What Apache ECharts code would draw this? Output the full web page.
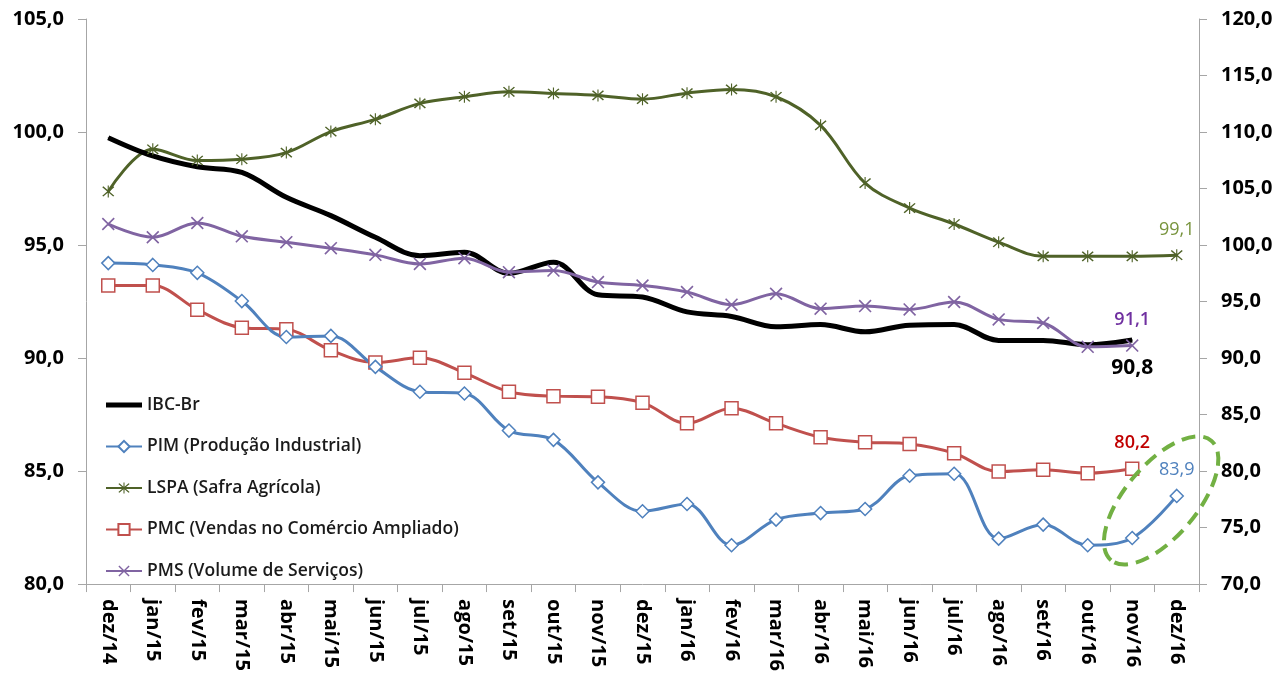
<!DOCTYPE html>
<html>
<head>
<meta charset="utf-8">
<script src="https://cdn.jsdelivr.net/npm/echarts@6/dist/echarts.min.js"></script>
<style>
  html, body { margin: 0; padding: 0; background: #fff; }
  #chart { width: 1278px; height: 674px; }
</style>
</head>
<body>
<div id="chart"></div>
<script>
// meses (eixo X)
const categories = [
  'dez/14', 'jan/15', 'fev/15', 'mar/15', 'abr/15', 'mai/15', 'jun/15', 'jul/15',
  'ago/15', 'set/15', 'out/15', 'nov/15', 'dez/15', 'jan/16', 'fev/16', 'mar/16',
  'abr/16', 'mai/16', 'jun/16', 'jul/16', 'ago/16', 'set/16', 'out/16', 'nov/16', 'dez/16'
];

// eixo esquerdo
const ibcBr = [99.75, 98.94, 98.46, 98.21, 97.11, 96.30, 95.34, 94.53, 94.68, 93.75, 94.24, 92.80,
  92.70, 92.04, 91.84, 91.38, 91.48, 91.16, 91.45, 91.48, 90.78, 90.78, 90.59, 90.8];
const pim = [94.20, 94.12, 93.77, 92.52, 90.93, 90.98, 89.61, 88.51, 88.43, 86.79, 86.38, 84.50,
  83.22, 83.54, 81.72, 82.85, 83.14, 83.32, 84.79, 84.88, 82.01, 82.63, 81.72, 82.04, 83.9];

// eixo direito
const lspa = [104.74, 108.47, 107.48, 107.59, 108.18, 110.04, 111.12, 112.53, 113.12, 113.56, 113.41, 113.24,
  112.91, 113.44, 113.77, 113.12, 110.59, 105.48, 103.27, 101.86, 100.25, 99.0, 99.0, 99.0, 99.1];
const pmc = [96.42, 96.42, 94.28, 92.69, 92.54, 90.69, 89.60, 90.02, 88.69, 87.02, 86.63, 86.58,
  86.05, 84.22, 85.55, 84.22, 82.99, 82.55, 82.40, 81.58, 79.96, 80.11, 79.81, 80.2];
const pms = [101.86, 100.69, 101.95, 100.77, 100.25, 99.72, 99.13, 98.33, 98.84, 97.60, 97.74, 96.72,
  96.42, 95.84, 94.72, 95.69, 94.37, 94.60, 94.30, 94.96, 93.42, 93.10, 90.99, 91.1];

const FONT = "'Open Sans', 'Noto Sans', sans-serif";
const fmt = v => Number(v).toFixed(1).replace('.', ',');

const xSymbol = 'path://M1.5,3 L3,1.5 L18.5,17 L17,18.5 Z M17,1.5 L18.5,3 L3,18.5 L1.5,17 Z';
const starSymbol = 'path://M9.2,0 L10.8,0 L10.8,20 L9.2,20 Z M1.5,3 L3,1.5 L18.5,17 L17,18.5 Z M17,1.5 L18.5,3 L3,18.5 L1.5,17 Z';

// rótulo só no último ponto
const lastLabel = (arr, color, pos, extra) => Object.assign({
  show: true,
  position: pos,
  distance: 10,
  color: color,
  fontFamily: FONT,
  fontSize: 18,
  fontWeight: 600,
  formatter: p => (p.dataIndex === arr.length - 1 ? fmt(p.value) : '')
}, extra || {});

const chart = echarts.init(document.getElementById('chart'));

chart.setOption({
  animation: false,
  backgroundColor: '#fff',
  grid: { left: 86, right: 79, top: 19, bottom: 88, containLabel: false },
  legend: {
    orient: 'vertical',
    left: 100,
    top: 391,
    itemWidth: 36,
    itemHeight: 14,
    itemGap: 23.5,
    textStyle: { fontFamily: FONT, fontSize: 17.5, fontWeight: 600, color: '#1a1a1a' },
    data: [
      { name: 'IBC-Br', icon: 'path://M0,0 L36,0 L36,5 L0,5 Z' },
      'PIM (Produção Industrial)',
      'LSPA (Safra Agrícola)',
      'PMC (Vendas no Comércio Ampliado)',
      'PMS (Volume de Serviços)'
    ]
  },
  xAxis: {
    type: 'category',
    data: categories,
    boundaryGap: true,
    axisLine: { lineStyle: { color: '#a6a6a6', width: 1 } },
    axisTick: { show: true, length: 8, lineStyle: { color: '#a6a6a6' } },
    axisLabel: {
      interval: 0,
      rotate: -90,
      margin: 15,
      color: '#000',
      fontFamily: FONT,
      fontSize: 20,
      fontWeight: 'bold'
    },
    splitLine: { show: false }
  },
  yAxis: [
    {
      type: 'value',
      position: 'left',
      min: 80,
      max: 105,
      interval: 5,
      axisLine: { show: true, lineStyle: { color: '#a6a6a6' } },
      axisTick: { show: true, length: 8, lineStyle: { color: '#a6a6a6' } },
      axisLabel: { margin: 22, color: '#000', fontFamily: FONT, fontSize: 20, fontWeight: 'bold', formatter: fmt },
      splitLine: { show: false }
    },
    {
      type: 'value',
      position: 'right',
      min: 70,
      max: 120,
      interval: 5,
      axisLine: { show: true, lineStyle: { color: '#a6a6a6' } },
      axisTick: { show: true, length: 8, lineStyle: { color: '#a6a6a6' } },
      axisLabel: { margin: 22, color: '#000', fontFamily: FONT, fontSize: 20, fontWeight: 'bold', formatter: fmt },
      splitLine: { show: false }
    }
  ],
  series: [
    {
      name: 'LSPA (Safra Agrícola)',
      type: 'line',
      yAxisIndex: 1,
      data: lspa,
      smooth: 0.35,
      symbol: starSymbol,
      symbolSize: 12,
      itemStyle: { color: '#4f6228', borderWidth: 0 },
      lineStyle: { color: '#4f6228', width: 3 },
      label: lastLabel(lspa, '#77933c', 'top', { fontWeight: 'normal' })
    },
    {
      name: 'PMC (Vendas no Comércio Ampliado)',
      type: 'line',
      yAxisIndex: 1,
      data: pmc,
      smooth: 0.35,
      symbol: 'rect',
      symbolSize: 13,
      itemStyle: { color: '#fff', borderColor: '#c0504d', borderWidth: 1.5 },
      lineStyle: { color: '#c0504d', width: 3 },
      label: lastLabel(pmc, '#c00000', 'top')
    },
    {
      name: 'PIM (Produção Industrial)',
      type: 'line',
      yAxisIndex: 0,
      data: pim,
      smooth: 0.35,
      symbol: 'diamond',
      symbolSize: 13,
      itemStyle: { color: '#fff', borderColor: '#4f81bd', borderWidth: 1.5 },
      lineStyle: { color: '#4f81bd', width: 3 },
      label: lastLabel(pim, '#4f81bd', 'top', { fontWeight: 'normal' })
    },
    {
      name: 'IBC-Br',
      type: 'line',
      yAxisIndex: 0,
      data: ibcBr,
      smooth: 0.35,
      symbol: 'circle',
      symbolSize: 1,
      itemStyle: { color: '#000' },
      lineStyle: { color: '#000', width: 5 },
      label: lastLabel(ibcBr, '#000', 'bottom', { fontSize: 21, fontWeight: 'bold', distance: 17 })
    },
    {
      name: 'PMS (Volume de Serviços)',
      type: 'line',
      yAxisIndex: 1,
      data: pms,
      smooth: 0.35,
      symbol: xSymbol,
      symbolSize: 13,
      itemStyle: { color: '#8064a2', borderWidth: 0 },
      lineStyle: { color: '#8064a2', width: 3 },
      label: lastLabel(pms, '#7030a0', 'top')
    }
  ]
});

// elipse tracejada em volta dos dois últimos pontos da PIM
const pA = chart.convertToPixel({ xAxisIndex: 0, yAxisIndex: 0 }, ['nov/16', 83.7]);
const pB = chart.convertToPixel({ xAxisIndex: 0, yAxisIndex: 0 }, ['dez/16', 83.7]);
chart.setOption({
  graphic: [{
    type: 'ellipse',
    x: pA[0] + (pB[0] - pA[0]) * 0.65,
    y: pA[1],
    rotation: 50 * Math.PI / 180,
    shape: { cx: 0, cy: 0, rx: 78, ry: 36 },
    style: { fill: 'none', stroke: '#72b043', lineWidth: 4, lineDash: [14, 8] },
    z: 100
  }]
});
</script>
</body>
</html>
